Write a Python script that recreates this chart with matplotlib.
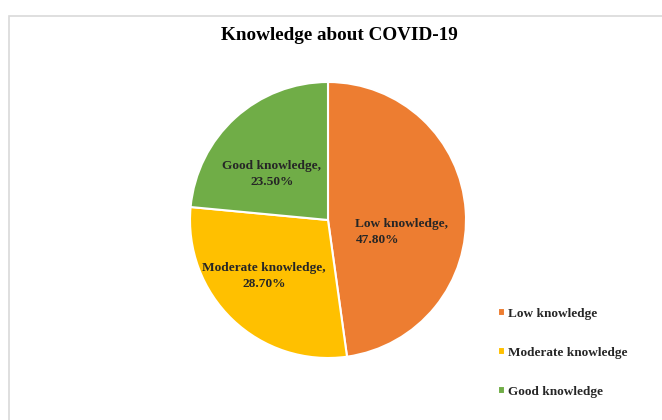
import matplotlib
matplotlib.use("Agg")
import matplotlib.pyplot as plt
import numpy as np
from matplotlib.patches import Rectangle

categories = ["Low knowledge", "Moderate knowledge", "Good knowledge"]
values = [47.8, 28.7, 23.5]
colors = ["#ED7D31", "#FFC000", "#70AD47"]
title = "Knowledge about COVID-19"

plt.rcParams['font.family'] = ['Liberation Serif', 'DejaVu Serif']

W, H = 662, 420
fig = plt.figure(figsize=(W / 100, H / 100), dpi=100)
fig.patch.set_facecolor("white")

# outer chart border
fig.patches.append(Rectangle((9 / W, -0.01), 1.0, 1 - 16 / H + 0.01, transform=fig.transFigure,
                             fill=False, edgecolor="#d9d9d9", linewidth=1.2))

cx, cy, r = 328, 220, 138
ax = fig.add_axes([(cx - r) / W, (H - cy - r) / H, 2 * r / W, 2 * r / H])
wedges, _ = ax.pie(values, colors=colors, startangle=90, counterclock=False,
                   wedgeprops=dict(edgecolor="white", linewidth=1.5), radius=1.0)
ax.set_xlim(-1, 1)
ax.set_ylim(-1, 1)
ax.set_aspect("equal")
ax.axis("off")

label_r = [0.6, 0.6, 0.56]
label_shift = [(-0.063, -0.128), (-0.049, 0.027), (-0.029, -0.081)]
for w, cat, v, lr, sh in zip(wedges, categories, values, label_r, label_shift):
    mid = np.deg2rad((w.theta1 + w.theta2) / 2)
    x = lr * np.cos(mid) + sh[0]
    y = lr * np.sin(mid) + sh[1]
    ax.text(x, y, f"{cat},\n{v:.2f}%", ha="center", va="center",
            multialignment="left" if cat.startswith("Low") else "center",
            fontsize=9.6, fontweight="bold", color="#262626", linespacing=1.45)

fig.text(339 / W, 1 - 35 / H, title, ha="center", va="center",
         fontsize=13.8, fontweight="bold", color="black")

leg = fig.legend(wedges, categories, loc="upper left", bbox_to_anchor=(486 / W, 1 - 296 / H),
                 frameon=False, prop=dict(size=9.5, weight="bold"), handlelength=0.55,
                 handleheight=0.55, handletextpad=0.2, labelspacing=2.05)
for t in leg.get_texts():
    t.set_color("#262626")

fig.savefig("out.png", dpi=100, facecolor="white")
